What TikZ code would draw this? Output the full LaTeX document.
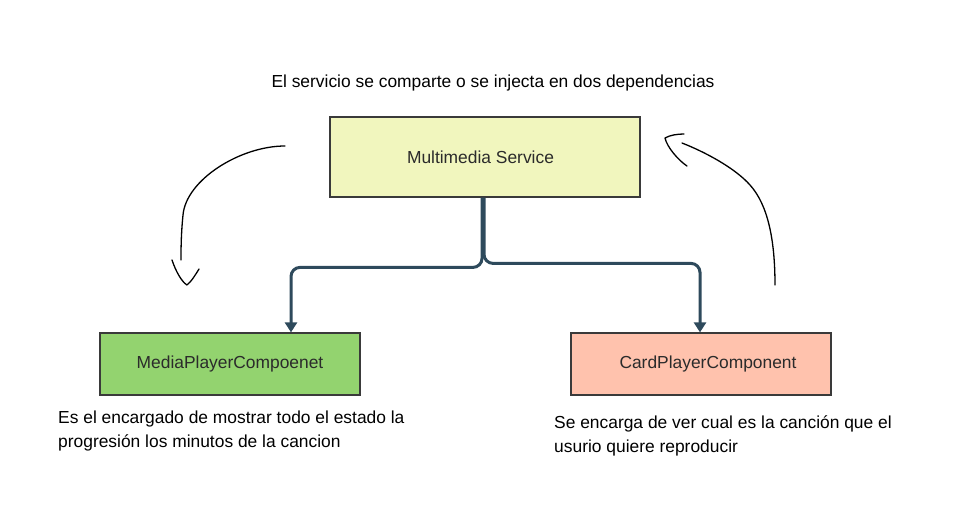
\documentclass[tikz,border=0pt]{standalone}
\usepackage{fontspec}
\setmainfont{Liberation Sans}
\usetikzlibrary{arrows.meta,calc}
\definecolor{svcfill}{HTML}{F1F6BE}
\definecolor{mpfill}{HTML}{93D36F}
\definecolor{cpfill}{HTML}{FFC2AD}
\definecolor{boxline}{HTML}{3A3A3A}
\definecolor{connline}{HTML}{2E4A5C}
\definecolor{boxtext}{HTML}{2B2B2B}
\tikzset{
  x=1pt, y=-1pt,
  txt/.style={font=\fontsize{17.4}{24}\selectfont, text=black, inner sep=0pt},
  box/.style={draw=boxline, line width=1.2pt, minimum width=#1, inner sep=0pt, font=\fontsize{17.4}{21}\selectfont, text=boxtext},
  conn/.style={draw=connline, line width=3pt, rounded corners=9pt, -{Triangle[width=12pt,length=10pt]}},
  hand/.style={draw=black, line width=1.3pt, line cap=round, line join=round},
}
\begin{document}
\begin{tikzpicture}
\useasboundingbox (0,0) rectangle (954,509);
\node[txt] (title) at (493,83) {El servicio se comparte o se injecta en dos dependencias};
\node[box=310pt, minimum height=80pt, fill=svcfill] (svc) at (485,157) {Multimedia Service\hspace*{9pt}};
\node[box=260pt, minimum height=62pt, fill=mpfill] (mp) at (230,364) {MediaPlayerCompoenet};
\node[box=260pt, minimum height=62pt, fill=cpfill] (cp) at (701,364) {\hspace*{14pt}CardPlayerComponent};
\node[txt, anchor=north west, align=left] (mpdesc) at (58,411) {Es el encargado de mostrar todo el estado la\\progresión los minutos de la cancion};
\node[txt, anchor=north west, align=left] (cpdesc) at (554,415) {Se encarga de ver cual es la canción que el\\usurio quiere reproducir};
\coordinate (ls) at ($(svc.south)+(-3,0)$);
\coordinate (rs) at ($(svc.south)+(-1,0)$);
\coordinate (le) at ($(mp.north)+(61,0)$);
\coordinate (re) at ($(cp.north)+(-1,0)$);
\draw[conn] (ls) |- ($(le)+(0,-65)$) -- (le);
\draw[conn] (rs) |- ($(re)+(0,-69)$) -- (re);
% hand drawn arrows
\coordinate (la0) at (285,146);
\coordinate (la1) at (181,260);
\draw[hand] (la0) .. controls (240,146) and (186,180) .. (183,215) .. controls (181,235) and (181,250) .. (la1);
\draw[hand] (172,260) .. controls (176,272) and (182,282) .. (187,285) .. controls (191,282) and (196,274) .. (199,269);
\coordinate (ra0) at (775,285);
\coordinate (ra1) at (682,143);
\draw[hand] (ra0) .. controls (775,240) and (768,205) .. (750,185) .. controls (735,168) and (705,152) .. (ra1);
\draw[hand] (687,166) .. controls (678,160) and (667,147) .. (665,138) .. controls (670,135) and (678,134) .. (684,134);
\end{tikzpicture}
\end{document}
